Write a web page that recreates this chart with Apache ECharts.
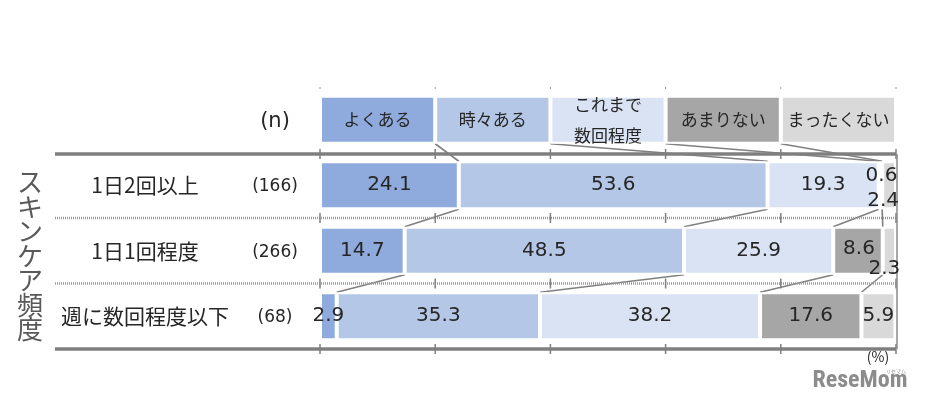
<!DOCTYPE html>
<html><head><meta charset="utf-8">
<script src="https://cdn.jsdelivr.net/npm/echarts@6/dist/echarts.min.js"></script>
<style>html,body{margin:0;padding:0;background:#fff}#c{width:928px;height:401px}</style>
</head><body><div id="c"></div>
<script>
// ---- data ----
const categories = ['', '1日2回以上', '1日1回程度', '週に数回程度以下'];
const nCounts = ['(n)', '(166)', '(266)', '(68)'];
const seriesNames = ['よくある', '時々ある', 'これまで\n数回程度', 'あまりない', 'まったくない'];
const headerValues = [20, 20, 20, 20, 20];
const often = [24.1, 14.7, 2.9];
const sometimes = [53.6, 48.5, 35.3];
const fewTimes = [19.3, 25.9, 38.2];
const rarely = [0.6, 8.6, 17.6];
const never = [2.4, 2.3, 5.9];
const axisTitle = 'スキンケア頻度';
const unitLabel = '(%)';
const watermark = 'ReseMom';
const watermarkSub = 'リセマム';

// ---- style ----
const colors = ['#8FAADC', '#B4C7E7', '#DAE3F3', '#A6A6A6', '#D9D9D9'];
const labelOffsets = { '3-1': [1, -9], '4-1': [-6, 16], '3-2': [1, -2], '4-2': [-5, 18] };
const BAR_W = 48;
const jp = '"Noto Sans CJK JP", "Noto Sans", sans-serif';
const num = '"DejaVu Sans", Verdana, sans-serif';

const rows = [often, sometimes, fewTimes, rarely, never];
const allVals = rows.map((r, k) => [headerValues[k], ...r]);

const barSeries = seriesNames.map((name, k) => ({
  type: 'bar', name, stack: 'total', barWidth: BAR_W,
  itemStyle: { color: colors[k], borderColor: '#fff', borderWidth: 2 },
  label: { show: true, position: 'inside', color: '#262626', fontFamily: num, fontSize: 20,
    formatter: p => p.dataIndex === 0 ? name : p.value.toFixed(1) },
  data: allVals[k].map((v, i) => {
    if (i === 0) return { value: v, label: { fontFamily: jp, fontSize: 17, lineHeight: 31, color: '#262626' } };
    const off = labelOffsets[k + '-' + i];
    return off ? { value: v, label: { offset: off } } : v;
  })
}));

function cumAt(i, k) { let s = 0; for (let j = 0; j < k; j++) s += allVals[j][i]; return s; }

const decor = {
  type: 'custom', z: 1, silent: true, data: [[0, 0]],
  renderItem: (params, api) => {
    const ch = [];
    const band = api.size([0, 1])[1];
    const half = BAR_W / 2;
    const xL = 55, xR = api.coord([100, 0])[0];
    const lineStyle = { stroke: '#808080', lineWidth: 1.6 };
    // connectors
    for (let i = 0; i < categories.length - 1; i++) {
      for (let k = 1; k <= 4; k++) {
        const a = api.coord([cumAt(i, k), i]);
        const b = api.coord([cumAt(i + 1, k), i + 1]);
        ch.push({ type: 'line', shape: { x1: a[0], y1: a[1] + half, x2: b[0], y2: b[1] - half }, style: lineStyle });
      }
    }
    // separators
    const ticksX = [0, 20, 40, 60, 80, 100].map(v => api.coord([v, 0])[0]);
    let yFirst = 0, yLast = 0;
    for (let i = 0; i < categories.length; i++) {
      const y = api.coord([0, i])[1] + band / 2 + (i === 0 ? 1.5 : 0);
      if (i === 0) yFirst = y;
      yLast = y;
      const thick = (i === 0 || i === categories.length - 1);
      ch.push({ type: 'line', shape: { x1: xL, y1: y, x2: xR, y2: y },
        style: thick ? { stroke: '#7F7F7F', lineWidth: 3.5 } : { stroke: '#9a9a9a', lineWidth: 2.5, lineDash: [1, 1] } });
      ticksX.forEach(x => ch.push({ type: 'line', shape: { x1: x, y1: y - 5, x2: x, y2: y + 5 }, style: { stroke: '#7F7F7F', lineWidth: 1.5 } }));
    }
    ch.push({ type: 'line', z2: 10, shape: { x1: xR + 1, y1: yFirst, x2: xR + 1, y2: yLast }, style: { stroke: '#8a8a8a', lineWidth: 1.5 } });
    const yTop = api.coord([0, 0])[1] - band / 2;
    ticksX.forEach(x => ch.push({ type: 'line', shape: { x1: x, y1: yTop, x2: x, y2: yTop + 2 }, style: { stroke: '#9a9a9a', lineWidth: 1 } }));
    return { type: 'group', children: ch };
  }
};

const chart = echarts.init(document.getElementById('c'));
chart.setOption({
  animation: false,
  backgroundColor: '#fff',
  grid: { left: 320, right: 32, top: 87, bottom: 52 },
  xAxis: { type: 'value', min: 0, max: 100, interval: 20, show: false },
  yAxis: {
    type: 'category', data: categories, inverse: true,
    axisLine: { show: false }, axisTick: { show: false },
    axisLabel: {
      margin: 10, color: '#262626',
      formatter: (v, idx) => idx === 0 ? `{a|}{h|${nCounts[idx]}}` : `{a|${v}}{b|${nCounts[idx]}}`,
      rich: {
        a: { width: 190, align: 'center', fontSize: 21, fontFamily: jp, color: '#262626' },
        b: { width: 70, align: 'center', fontSize: 17, fontFamily: num, color: '#262626', padding: [3, 0, 0, 0] },
        h: { width: 70, align: 'center', fontSize: 21, fontFamily: num, color: '#262626', padding: [4, 0, 0, 0] }
      }
    }
  },
  graphic: [
    { type: 'text', x: 30, y: 256, style: { text: axisTitle.split('').join('\n'), font: '26px ' + jp, lineHeight: 24.5, fill: '#595959', align: 'center', verticalAlign: 'middle' } },
    { type: 'text', x: 878, y: 357, style: { text: unitLabel, font: '14px ' + jp, fill: '#262626', align: 'center', verticalAlign: 'middle' } },
    { type: 'text', x: 860, y: 381, style: { text: watermark, font: 'bold 24px "Liberation Sans Narrow", "Roboto Condensed", Roboto, sans-serif', fill: '#8c8c8c', align: 'center', verticalAlign: 'middle' } },
    { type: 'text', x: 896, y: 371, style: { text: watermarkSub, font: '5px ' + jp, fill: '#8c8c8c', align: 'center', verticalAlign: 'middle' } }
  ],
  series: [...barSeries, decor]
});
</script></body></html>
